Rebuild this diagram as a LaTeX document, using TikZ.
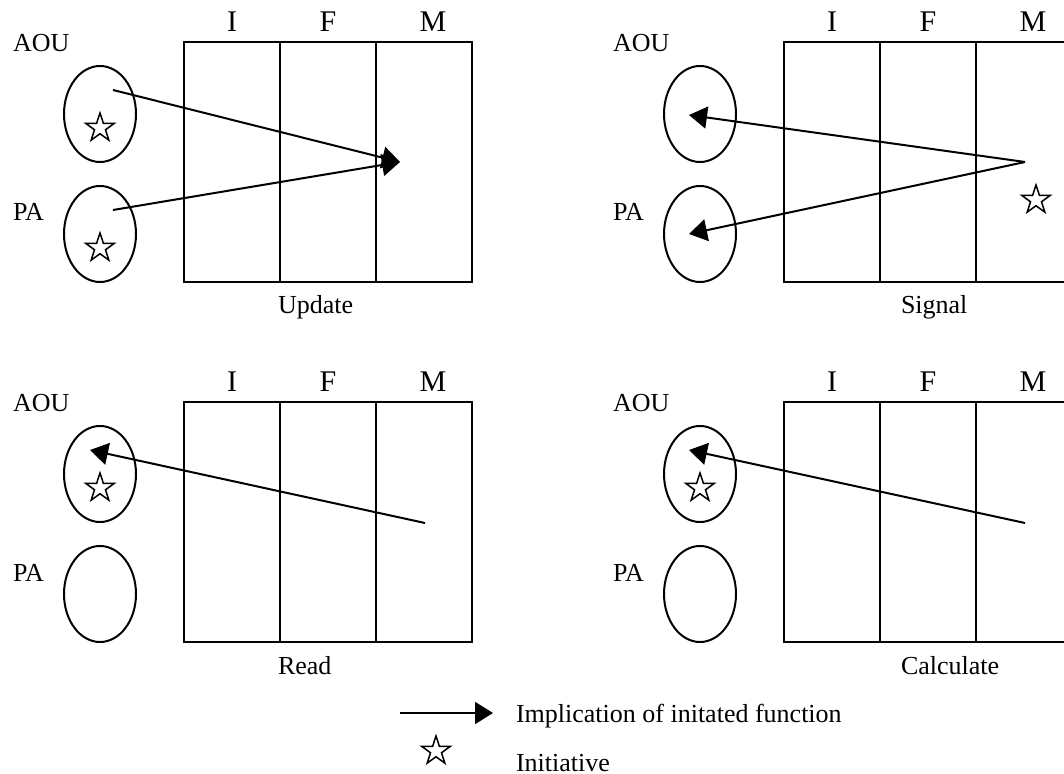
\documentclass[tikz,border=0pt]{standalone}
\usepackage{fontspec}
\setmainfont{Liberation Serif}
\usetikzlibrary{shapes.geometric, arrows.meta, positioning}

\begin{document}
\begin{tikzpicture}[x=0.5pt, y=-0.5pt, line width=1pt,
    area/.style={ellipse, draw, minimum width=36pt, minimum height=48pt, inner sep=0pt},
    layer/.style={rectangle, draw, minimum width=48pt, minimum height=120pt,
                  inner sep=0pt, outer sep=0pt},
    initiative/.style={star, star points=5, star point ratio=2.6, draw, line width=0.75pt,
                       minimum size=15pt, inner sep=0pt},
    implies/.style={-{Triangle[length=9pt, width=11pt]}},
    side/.style={font=\fontsize{13}{15}\selectfont, anchor=base west, inner sep=0pt},
    col/.style={font=\fontsize{15}{18}\selectfont, anchor=base, inner sep=0pt},
    caption/.style={font=\fontsize{13}{15}\selectfont, anchor=base west, inner sep=0pt}]
\useasboundingbox (0,0) rectangle (1064,774);
\clip (0,0) rectangle (1064,774);

% four panels: areas on the left, I/F/M layers on the right
\foreach \p/\dx/\dy/\cx/\cap in {ul/0/0/277/Update, ur/600/0/300/Signal,
                                 ll/0/360/277/Read, lr/600/360/300/Calculate}{
  \begin{scope}[shift={(\dx,\dy)}]
    \node[side] (\p-aoutxt) at (12,52) {AOU};
    \node[side] (\p-patxt) at (12,221) {PA};
    \node[area] (\p-aou) at (100,114) {};
    \node[area] (\p-pa) at (100,234) {};

    \node[layer] (\p-I) at (232,162) {};
    \node[layer, right=0pt of \p-I] (\p-F) {};
    \node[layer, right=0pt of \p-F] (\p-M) {};
    \node[col] (\p-itxt) at (232,32) {I};
    \node[col] (\p-ftxt) at (328,32) {F};
    \node[col] (\p-mtxt) at (433,32) {M};

    \node[caption] (\p-cap) at (\cx,314) {\cap};
  \end{scope}
}

% Update
\node[initiative] (ul-s1) at (100,128) {};
\node[initiative] (ul-s2) at (100,248) {};
\coordinate (ul-a) at (113,90);
\coordinate (ul-b) at (113,210);
\coordinate (ul-m) at (400,162);
\draw[implies] (ul-a) -- (ul-m);
\draw[implies] (ul-b) -- (ul-m);

% Signal
\node[initiative] (ur-s) at (1036,200) {};
\coordinate (ur-m) at (1025,162);
\coordinate (ur-a) at (689,115);
\coordinate (ur-b) at (689,234);
\draw[implies] (ur-m) -- (ur-a);
\draw[implies] (ur-m) -- (ur-b);

% Read
\node[initiative] (ll-s) at (100,488) {};
\coordinate (ll-m) at (425,523);
\coordinate (ll-a) at (90,450);
\draw[implies] (ll-m) -- (ll-a);

% Calculate
\node[initiative] (lr-s) at (700,488) {};
\coordinate (lr-m) at (1025,523);
\coordinate (lr-a) at (689,450);
\draw[implies] (lr-m) -- (lr-a);

% legend
\coordinate (key-from) at (400,713);
\coordinate (key-to) at (493,713);
\draw[implies] (key-from) -- (key-to);
\node[caption] (key-arrow) at (515,722) {Implication of initated function};
\node[initiative] (key-s) at (436,751) {};
\node[caption] (key-star) at (515,771) {Initiative};
\end{tikzpicture}
\end{document}
